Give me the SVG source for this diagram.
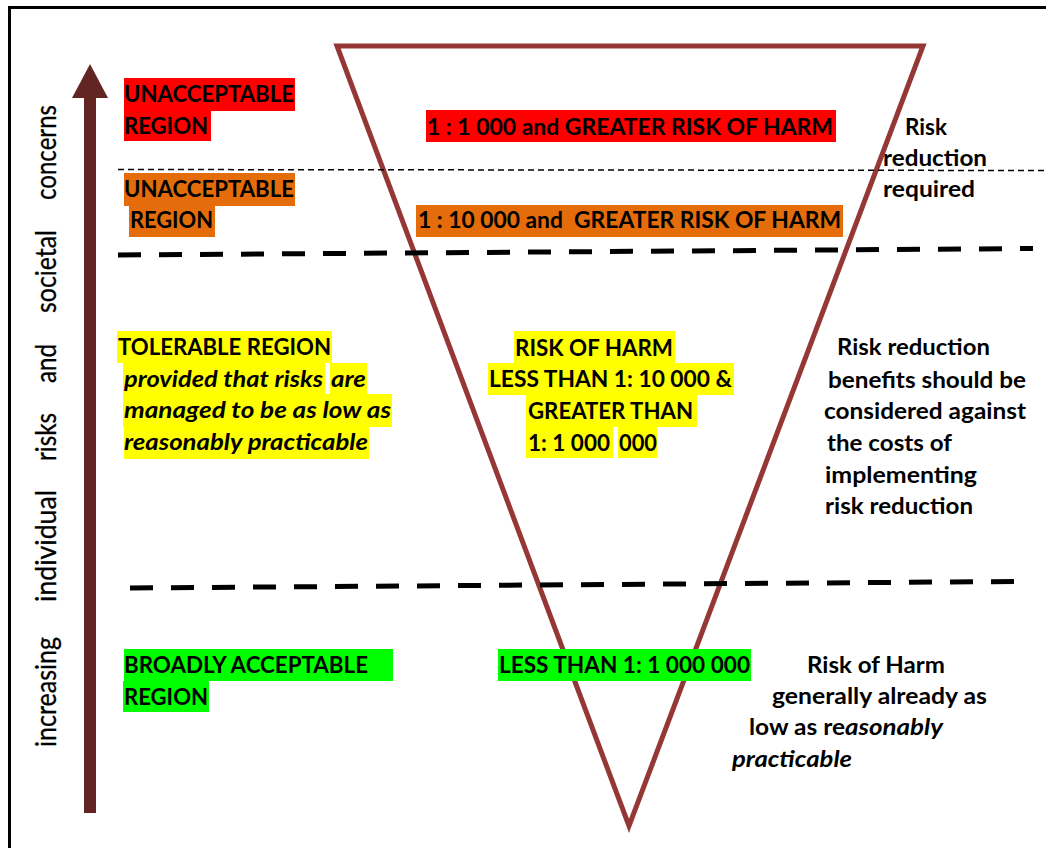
<svg xmlns="http://www.w3.org/2000/svg" width="1046" height="848" viewBox="0 0 1046 848">
<style>
text{font-family:Lato,"Liberation Sans",sans-serif;fill:#000}
.b{font-weight:bold;font-size:22px}
.bi{font-weight:bold;font-style:italic;font-size:22px}
.v{font-size:28px;font-weight:normal;stroke:#000;stroke-width:0.3}
.red{fill:#FF0000}.org{fill:#E46C0A}.yel{fill:#FFFF00}.grn{fill:#00FF00}
.thick{stroke:#000;stroke-width:5;stroke-dasharray:23 18;fill:none}
.thin{stroke:#000;stroke-width:1.5;stroke-dasharray:6 4;fill:none}
</style>
<rect x="0" y="0" width="1046" height="848" fill="#fff"/>
<rect x="9.5" y="7.5" width="1100" height="900" fill="none" stroke="#000" stroke-width="3"/>

<g id="triangle">
<polygon points="337,46 923,46 629,826" fill="none" stroke="#953735" stroke-width="5" stroke-linejoin="miter"/>
</g>

<g id="connectors">
<rect x="84" y="96" width="12" height="717" fill="#632523"/>
<polygon points="90,64 72,98 108,98" fill="#632523"/>
<line class="thin" x1="118" y1="169.5" x2="1046" y2="170.5"/>
<line class="thick" x1="118" y1="255" x2="1033" y2="248.5"/>
<line class="thick" x1="130" y1="588" x2="1014" y2="581.5"/>
</g>

<g id="axis-label">
<text class="v" transform="translate(56,747) rotate(-90)" textLength="110" lengthAdjust="spacingAndGlyphs">increasing</text>
<text class="v" transform="translate(56,602) rotate(-90)" textLength="112" lengthAdjust="spacingAndGlyphs">individual</text>
<text class="v" transform="translate(56,461) rotate(-90)" textLength="48" lengthAdjust="spacingAndGlyphs">risks</text>
<text class="v" transform="translate(56,383) rotate(-90)" textLength="39" lengthAdjust="spacingAndGlyphs">and</text>
<text class="v" transform="translate(56,313) rotate(-90)" textLength="83" lengthAdjust="spacingAndGlyphs">societal</text>
<text class="v" transform="translate(56,200) rotate(-90)" textLength="95" lengthAdjust="spacingAndGlyphs">concerns</text>
</g>

<g id="unacceptable-red">
<rect class="red" x="124" y="78" width="171" height="33"/>
<rect class="red" x="124" y="111" width="87" height="30"/>
<text class="b" x="124" y="102" textLength="170" lengthAdjust="spacingAndGlyphs">UNACCEPTABLE</text>
<text class="b" x="124" y="134" textLength="84" lengthAdjust="spacingAndGlyphs">REGION</text>
</g>

<g id="unacceptable-orange">
<rect class="org" x="124" y="173" width="171" height="33"/>
<rect class="org" x="129" y="206" width="86" height="31"/>
<text class="b" x="124" y="197" textLength="170" lengthAdjust="spacingAndGlyphs">UNACCEPTABLE</text>
<text class="b" x="130" y="228" textLength="83" lengthAdjust="spacingAndGlyphs">REGION</text>
</g>

<g id="risk-1-1000">
<rect class="red" x="426" y="110" width="410" height="32"/>
<text class="b" x="427" y="135" textLength="406" lengthAdjust="spacingAndGlyphs">1 : 1 000 and GREATER RISK OF HARM</text>
</g>

<g id="risk-1-10000">
<rect class="org" x="416" y="205" width="427" height="32"/>
<text class="b" x="418" y="228" textLength="423" lengthAdjust="spacingAndGlyphs" style="white-space:pre">1 : 10 000 and  GREATER RISK OF HARM</text>
</g>

<g id="risk-reduction-required">
<text class="b" x="905" y="135" textLength="42" lengthAdjust="spacingAndGlyphs">Risk</text>
<text class="b" x="883" y="166" textLength="104" lengthAdjust="spacingAndGlyphs">reduction</text>
<text class="b" x="883" y="197" textLength="92" lengthAdjust="spacingAndGlyphs">required</text>
</g>

<g id="tolerable">
<rect class="yel" x="117" y="331" width="215" height="32"/>
<rect class="yel" x="123" y="363" width="202" height="31"/>
<rect class="yel" x="330" y="363" width="37" height="31"/>
<rect class="yel" x="123" y="394" width="269" height="33"/>
<rect class="yel" x="124" y="427" width="245" height="32"/>
<text class="b" x="118" y="355" textLength="213" lengthAdjust="spacingAndGlyphs">TOLERABLE REGION</text>
<text class="bi" x="124" y="387" textLength="199" lengthAdjust="spacingAndGlyphs">provided that risks</text>
<text class="bi" x="331" y="387" textLength="35" lengthAdjust="spacingAndGlyphs">are</text>
<text class="bi" x="124" y="418" textLength="267" lengthAdjust="spacingAndGlyphs">managed to be as low as</text>
<text class="bi" x="124" y="450" textLength="244" lengthAdjust="spacingAndGlyphs">reasonably practicable</text>
</g>

<g id="risk-tolerable">
<rect class="yel" x="514" y="331" width="161" height="32"/>
<rect class="yel" x="488" y="363" width="246" height="32"/>
<rect class="yel" x="526" y="395" width="171" height="32"/>
<rect class="yel" x="526" y="427" width="87" height="31"/>
<rect class="yel" x="618" y="427" width="39" height="31"/>
<text class="b" x="515" y="356" textLength="158" lengthAdjust="spacingAndGlyphs">RISK OF HARM</text>
<text class="b" x="489" y="387" textLength="243" lengthAdjust="spacingAndGlyphs">LESS THAN 1: 10 000 &amp;</text>
<text class="b" x="528" y="419" textLength="165" lengthAdjust="spacingAndGlyphs">GREATER THAN</text>
<text class="b" x="528" y="451" textLength="82" lengthAdjust="spacingAndGlyphs">1: 1 000</text>
<text class="b" x="619" y="451" textLength="38" lengthAdjust="spacingAndGlyphs">000</text>
</g>

<g id="risk-benefits">
<text class="b" x="837" y="355" textLength="153" lengthAdjust="spacingAndGlyphs">Risk reduction</text>
<text class="b" x="828" y="388" textLength="198" lengthAdjust="spacingAndGlyphs">benefits should be</text>
<text class="b" x="824" y="419" textLength="202" lengthAdjust="spacingAndGlyphs">considered against</text>
<text class="b" x="827" y="451" textLength="125" lengthAdjust="spacingAndGlyphs">the costs of</text>
<text class="b" x="825" y="483" textLength="152" lengthAdjust="spacingAndGlyphs">implementing</text>
<text class="b" x="825" y="514" textLength="148" lengthAdjust="spacingAndGlyphs">risk reduction</text>
</g>

<g id="broadly-acceptable">
<rect class="grn" x="124" y="649" width="269" height="32"/>
<rect class="grn" x="123" y="681" width="86" height="31"/>
<text class="b" x="124" y="673" textLength="244" lengthAdjust="spacingAndGlyphs">BROADLY ACCEPTABLE</text>
<text class="b" x="124" y="705" textLength="84" lengthAdjust="spacingAndGlyphs">REGION</text>
</g>

<g id="risk-acceptable">
<rect class="grn" x="498" y="649" width="253" height="32"/>
<text class="b" x="499" y="673" textLength="251" lengthAdjust="spacingAndGlyphs">LESS THAN 1: 1 000 000</text>
</g>

<g id="alarp-note">
<text class="b" x="807" y="673" textLength="138" lengthAdjust="spacingAndGlyphs">Risk of Harm</text>
<text class="b" x="772" y="704" textLength="215" lengthAdjust="spacingAndGlyphs">generally already as</text>
<text class="b" x="749" y="735" textLength="96" lengthAdjust="spacingAndGlyphs">low as re</text>
<text class="bi" x="845" y="735" textLength="98" lengthAdjust="spacingAndGlyphs">asonably</text>
<text class="bi" x="732" y="767" textLength="120" lengthAdjust="spacingAndGlyphs">practicable</text>
</g>
</svg>
